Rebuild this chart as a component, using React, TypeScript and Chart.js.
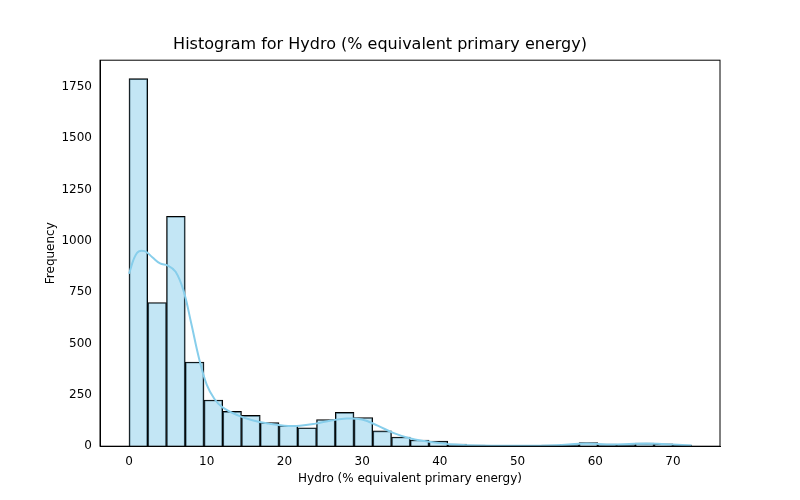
import React, { useEffect, useRef } from 'react';
import { Chart, registerables } from 'chart.js';

Chart.register(...registerables);

const binStart = 0;
const binWidth = 2.413;
const counts = [1790, 700, 1120, 410, 225, 170, 150, 115, 100, 90, 130, 165, 140, 75, 45, 30, 25, 10, 5, 3, 2, 2, 5, 8, 18, 10, 8, 15, 12, 5];
const kdeX = [0, 1, 2, 3, 4, 5, 6, 7, 8, 9, 10, 11, 12, 14, 16, 18, 20, 22, 24, 26, 28, 30, 32, 34, 36, 38, 40, 42, 45, 50, 55, 58, 60, 62, 65, 68, 70, 72.4];
const kdeY = [840, 940, 950, 920, 890, 880, 850, 760, 600, 430, 300, 230, 190, 150, 125, 110, 100, 100, 110, 125, 135, 130, 100, 65, 40, 25, 15, 8, 3, 2, 5, 12, 12, 8, 12, 12, 8, 4];
const xTicks = [0, 10, 20, 30, 40, 50, 60, 70];
const yTicks = [0, 250, 500, 750, 1000, 1250, 1500, 1750];

const font = { family: 'DejaVu Sans', size: 12 };

// box around the plot area, like matplotlib's spines
const frame = {
  id: 'frame',
  afterDraw(chart: any) {
    const { ctx, chartArea: a } = chart;
    ctx.save();
    ctx.strokeStyle = '#000';
    ctx.lineWidth = 1;
    ctx.strokeRect(a.left, a.top, a.right - a.left, a.bottom - a.top);
    ctx.restore();
  },
};

export default function App() {
  const ref = useRef<HTMLCanvasElement>(null);
  useEffect(() => {
    document.body.style.margin = '0';
    const chart = new Chart(ref.current!, {
      type: 'bar',
      data: {
        datasets: [
          {
            type: 'line',
            data: kdeX.map((x, i) => ({ x, y: kdeY[i] })),
            borderColor: '#87ceeb',
            borderWidth: 2,
            pointRadius: 0,
            tension: 0.4,
          } as any,
          {
            type: 'bar',
            data: counts.map((c, i) => ({ x: binStart + binWidth * (i + 0.5), y: c })),
            backgroundColor: 'rgba(135,206,235,0.5)',
            borderColor: '#000',
            borderWidth: 1,
            barPercentage: 1,
            categoryPercentage: 1,
          },
        ],
      },
      options: {
        animation: false,
        responsive: false,
        layout: { padding: { top: 10, right: 80, left: 40, bottom: 14 } },
        plugins: {
          legend: { display: false },
          tooltip: { enabled: false },
          title: { display: true, text: 'Histogram for Hydro (% equivalent primary energy)', color: '#000', font: { family: 'DejaVu Sans', size: 16, weight: 'normal' }, padding: { top: 25, bottom: 6 } },
        },
        scales: {
          x: {
            type: 'linear',
            offset: false,
            min: -3.73,
            max: 76.05,
            grid: { display: false, drawTicks: true, tickLength: 5, tickColor: '#000' },
            border: { color: '#000' },
            afterBuildTicks: (s: any) => { s.ticks = xTicks.map(v => ({ value: v })); },
            ticks: { color: '#000', font, maxRotation: 0 },
            title: { display: true, text: 'Hydro (% equivalent primary energy)', color: '#000', font, padding: 0 },
          },
          y: {
            min: 0,
            max: 1880,
            afterBuildTicks: (s: any) => { s.ticks = yTicks.map(v => ({ value: v })); },
            afterFit: (s: any) => { s.width = 60; },
            grid: { display: false, drawTicks: true, tickLength: 5, tickColor: '#000' },
            border: { color: '#000' },
            ticks: { color: '#000', font, callback: (v: any) => String(v) },
            title: { display: true, text: 'Frequency', color: '#000', font },
          },
        },
      },
      plugins: [frame],
    });
    return () => chart.destroy();
  }, []);
  return <div style={{ width: 800, height: 500 }}><canvas ref={ref} width={800} height={500} /></div>;
}
